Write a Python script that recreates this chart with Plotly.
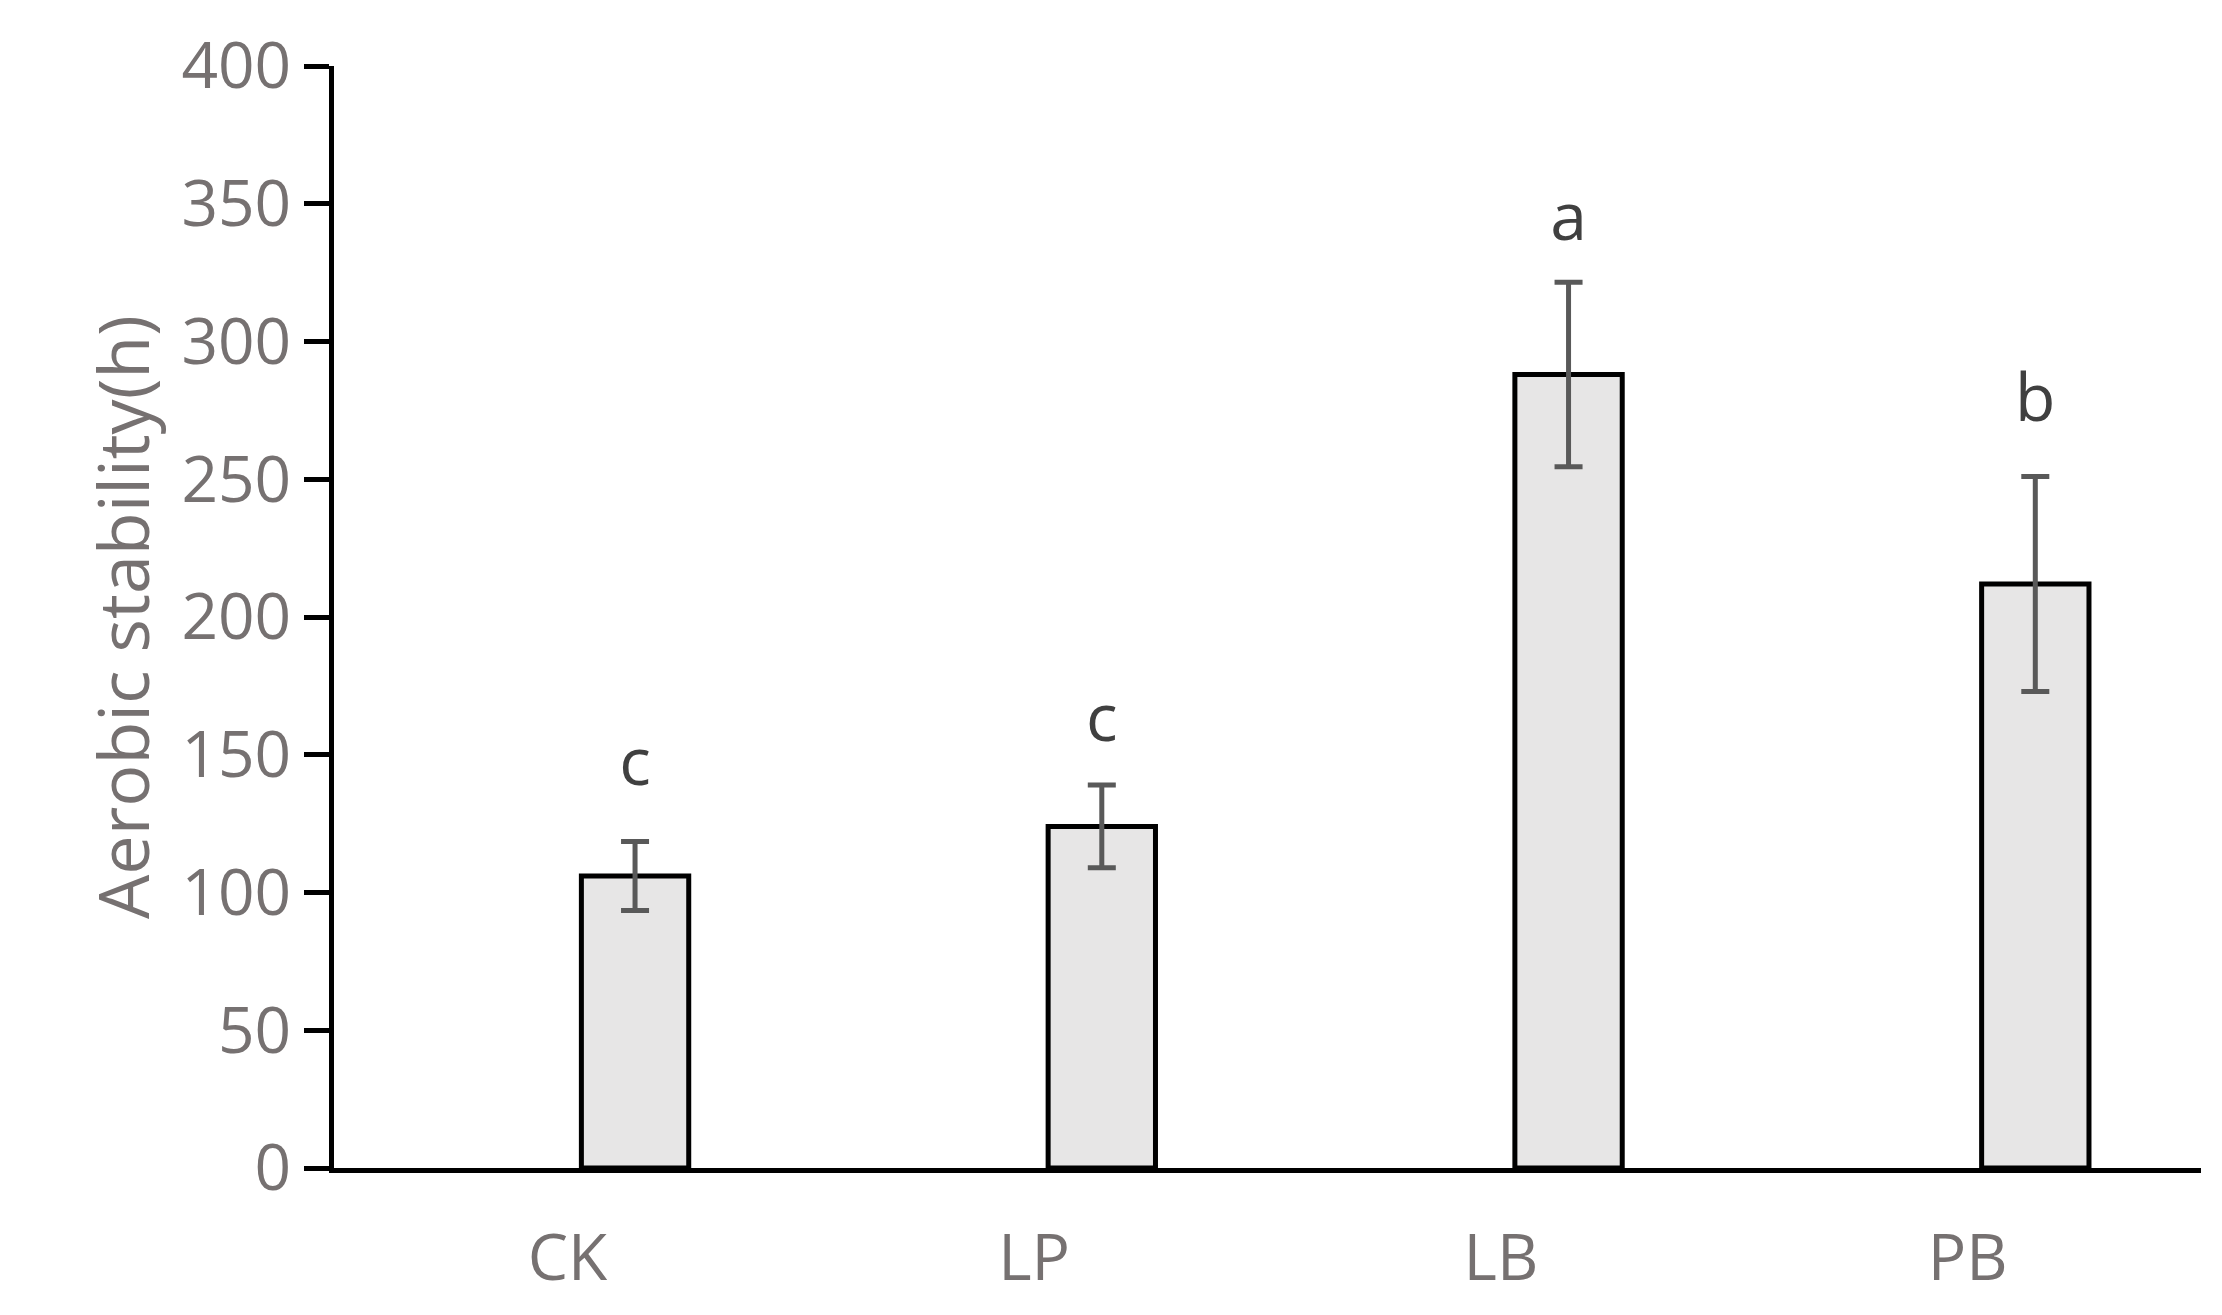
import plotly.graph_objects as go

categories = ["CK", "LP", "LB", "PB"]
values = [106, 124, 288, 212]
errors = [12.5, 15, 33.5, 39]
letters = ["c", "c", "a", "b"]
letter_y = [145, 161, 343, 277]

xpos = [i + 0.145 for i in range(len(categories))]

fig = go.Figure()
fig.add_bar(x=xpos, y=values, width=0.23,
            marker=dict(color="#E7E6E6", line=dict(color="black", width=5)),
            error_y=dict(type="data", array=errors, color="#595959", thickness=5, width=14))
fig.add_scatter(x=xpos, y=letter_y, mode="text", text=letters,
                textfont=dict(size=66, color="#404040", family="Open Sans"))
fig.update_layout(
    width=2222, height=1315, plot_bgcolor="white", paper_bgcolor="white",
    margin=dict(l=326, r=29, t=55, b=155), showlegend=False,
    font=dict(family="Open Sans", color="#767171"),
    xaxis=dict(range=[-0.5, 3.5], tickvals=list(range(len(categories))), ticktext=categories,
               showline=True, linecolor="black", linewidth=5, ticks="", showgrid=False,
               tickfont=dict(size=64, color="#767171"), ticklabelstandoff=30, zeroline=False),
    yaxis=dict(range=[0, 400], dtick=50, showline=True, linecolor="black", linewidth=5,
               ticks="outside", ticklen=25, tickwidth=5, tickcolor="black", showgrid=False,
               tickfont=dict(size=64, color="#767171"), zeroline=False,
               title=dict(text="Aerobic stability(h)", font=dict(size=70, color="#767171"), standoff=10)),
)
fig.write_html("out.html")
